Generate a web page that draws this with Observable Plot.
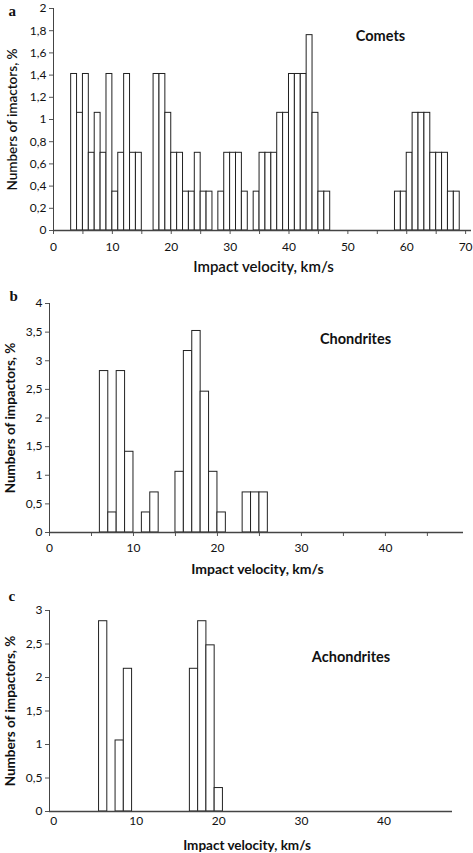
<!DOCTYPE html>
<html><head><meta charset="utf-8">
<script src="https://cdn.jsdelivr.net/npm/d3@7"></script>
<script src="https://cdn.jsdelivr.net/npm/@observablehq/plot@0.6"></script>
<style>
body{margin:0;background:#fff;}
#fig{position:relative;width:473px;height:853px;overflow:hidden;background:#fff;}
#fig > svg{position:absolute;left:0;}
</style></head><body><div id="fig"></div>
<script>
// ---- data ----
// Comets: lower edge of 1 km/s bins and percentage of impactors
const cometBins   = [3,4,5,6,7,8,9,10,11,12,13,14, 17,18,19,20,21,22,23,24,25,26, 28,29,30,31,32, 34,35,36,37,38,39,40,41,42,43,44,45,46, 58,59,60,61,62,63,64,65,66,67,68];
const cometValues = [1.41,1.06,1.41,0.70,1.06,0.70,1.41,0.35,0.70,1.41,0.70,0.70, 1.41,1.41,1.06,0.70,0.70,0.35,0.35,0.70,0.35,0.35, 0.35,0.70,0.70,0.70,0.35, 0.35,0.70,0.70,0.70,1.06,1.06,1.41,1.41,1.41,1.76,1.06,0.35,0.35, 0.35,0.35,0.70,1.06,1.06,1.06,0.70,0.70,0.70,0.35,0.35];
// Chondrites: lower edge of bins
const chondriteBins   = [6,7,8,9,11,12,15,16,17,18,19,20,23,24,25];
const chondriteValues = [2.82,0.35,2.82,1.41,0.35,0.70,1.06,3.17,3.52,2.46,1.06,0.35,0.70,0.70,0.70];
// Achondrites: bin centres
const achondriteCenters = [6,8,9,17,18,19,20];
const achondriteValues  = [2.84,1.06,2.13,2.13,2.84,2.48,0.35];

const xTitle = "Impact velocity, km/s";
const yTitleA = "Numbers of imactors, %";
const yTitleBC = "Numbers of impactors, %";
const seriesNames = ["Comets", "Chondrites", "Achondrites"];
const panelLetters = ["a", "b", "c"];

// ---- drawing ----
const fmt = d => String(Math.round(d * 10) / 10).replace(".", ",");
const FONT = "Lato, 'Open Sans', sans-serif";
const fig = document.getElementById("fig");

function panel(o) {
  const p = Plot.plot({
    width: 473, height: o.h,
    marginLeft: o.ml, marginRight: o.mr, marginTop: o.mt, marginBottom: o.mb,
    style: {fontFamily: FONT, fontSize: "11px", color: "#111", background: "transparent", overflow: "visible"},
    x: {domain: o.xDomain},
    y: {domain: o.yDomain},
    marks: [
      Plot.rectY(o.data, {x1: "x1", x2: "x2", y: "p", fill: "white", stroke: "#222", strokeWidth: 1}),
      Plot.axisY({ticks: o.yTicks, tickSize: 4, tickPadding: 3, tickFormat: fmt, label: null, stroke: "#555", fontSize: 12}),
      Plot.axisX({ticks: o.xTicks, tickSize: o.xTickSize, tickPadding: o.xPad,
                  tickFormat: d => d % 10 === 0 ? String(d) : "", label: null, stroke: "#555", fontSize: 12}),
      Plot.ruleY([o.yDomain[0]], {stroke: "#444", strokeWidth: 1.3}),
      Plot.ruleX([o.xDomain[0]], {stroke: "#444", strokeWidth: 1}),
      Plot.text([o.yTitle], {frameAnchor: "left", dx: o.yTitleDx, rotate: -90, textAnchor: "middle", lineAnchor: "middle",
                             fontSize: 13.5, fontWeight: o.titleWeight, fill: "#111"}),
      Plot.text([xTitle], {frameAnchor: "bottom", dx: o.xTitleDx, dy: o.xTitleDy, lineAnchor: "middle",
                           fontSize: o.xTitleSize, fontWeight: o.titleWeight, fill: "#111"}),
      Plot.text([o.name], {frameAnchor: "top", dx: o.nameDx, dy: o.nameDy, lineAnchor: "middle",
                           fontSize: 14.5, fontWeight: "bold", fill: "#111"}),
      Plot.text([o.letter], {frameAnchor: "top-left", dx: o.letterDx, dy: o.letterDy, lineAnchor: "middle",
                             fontSize: 15, fontWeight: "bold", fontFamily: "'Liberation Serif', 'DejaVu Serif', serif", fill: "#111"})
    ]
  });
  p.style.top = o.top + "px";
  fig.appendChild(p);
}

panel({
  top: 0, h: 280, ml: 53, mr: 2, mt: 8, mb: 50,
  data: cometBins.map((b, i) => ({x1: b, x2: b + 1, p: cometValues[i]})),
  xDomain: [0, 71], xTicks: d3.range(0, 71, 5), xTickSize: 4, xPad: 8,
  yDomain: [0, 2], yTicks: d3.range(0, 2.001, 0.2),
  yTitle: yTitleA, yTitleDx: -41, titleWeight: 600,
  xTitleDx: 1, xTitleDy: 37, xTitleSize: 15,
  name: seriesNames[0], nameDx: 118, nameDy: 28,
  letter: panelLetters[0], letterDx: -45, letterDy: 3
});

panel({
  top: 280, h: 300, ml: 49, mr: 10, mt: 23, mb: 48,
  data: chondriteBins.map((b, i) => ({x1: b, x2: b + 1, p: chondriteValues[i]})),
  xDomain: [0, 49.3], xTicks: d3.range(0, 46, 5), xTickSize: 4, xPad: 7,
  yDomain: [0, 4], yTicks: d3.range(0, 4.001, 0.5),
  yTitle: yTitleBC, yTitleDx: -39, titleWeight: "bold",
  xTitleDx: 1, xTitleDy: 37, xTitleSize: 14,
  name: seriesNames[1], nameDx: 99, nameDy: 36,
  letter: panelLetters[1], letterDx: -40, letterDy: -7
});

panel({
  top: 580, h: 273, ml: 49, mr: 21, mt: 30, mb: 42,
  data: achondriteCenters.map((c, i) => ({x1: c - 0.5, x2: c + 0.5, p: achondriteValues[i]})),
  xDomain: [-0.5, 48.3], xTicks: d3.range(0, 41, 10), xTickSize: 0, xPad: 5,
  yDomain: [0, 3], yTicks: d3.range(0, 3.001, 0.5),
  yTitle: yTitleBC, yTitleDx: -39, titleWeight: "bold",
  xTitleDx: -4, xTitleDy: 34, xTitleSize: 13.5,
  name: seriesNames[2], nameDx: 100, nameDy: 47,
  letter: panelLetters[2], letterDx: -41, letterDy: -14
});
</script></body></html>
